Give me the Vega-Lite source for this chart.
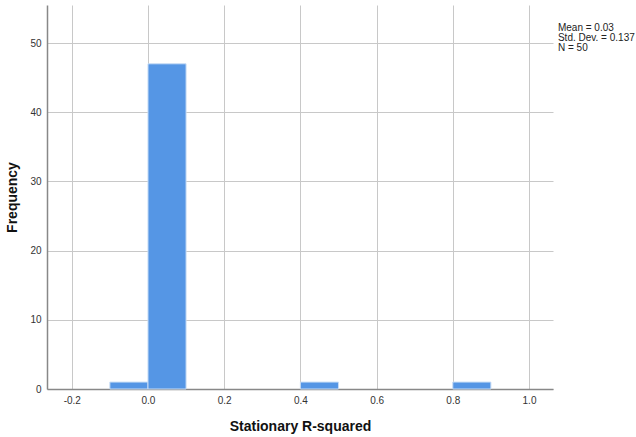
{
  "$schema": "https://vega.github.io/schema/vega-lite/v6.json",
  "autosize": {"type": "none"},
  "width": 506,
  "height": 384,
  "padding": {"left": 47, "top": 5, "right": 83, "bottom": 48},
  "background": "white",
  "config": {
    "view": {"stroke": null},
    "font": "Liberation Sans",
    "axis": {
      "labelFont": "Liberation Sans",
      "titleFont": "Liberation Sans",
      "labelFontSize": 10,
      "labelColor": "#333333",
      "titleFontSize": 14,
      "titleFontWeight": "bold",
      "titleColor": "#111111",
      "gridColor": "#c8c8c8",
      "gridWidth": 1,
      "domainColor": "#888888",
      "ticks": false
    }
  },
  "datasets": {
    "bins": [
      {"bin_start": -0.1, "bin_end": 0.0, "count": 1},
      {"bin_start": 0.0, "bin_end": 0.1, "count": 47},
      {"bin_start": 0.4, "bin_end": 0.5, "count": 1},
      {"bin_start": 0.8, "bin_end": 0.9, "count": 1}
    ],
    "stats": [
      {"label": "Mean = 0.03", "x": 1.076, "y": 52.2},
      {"label": "Std. Dev. = 0.137", "x": 1.076, "y": 50.75},
      {"label": "N = 50", "x": 1.076, "y": 49.3}
    ]
  },
  "layer": [
    {
      "data": {"name": "bins"},
      "mark": {"type": "rect", "fill": "#5596e5", "stroke": "#c9ddf5", "strokeWidth": 1},
      "encoding": {
        "x": {
          "field": "bin_start",
          "type": "quantitative",
          "scale": {"domain": [-0.265, 1.063], "nice": false, "zero": false},
          "axis": {
            "values": [-0.2, 0, 0.2, 0.4, 0.6, 0.8, 1.0],
            "format": ".1f",
            "labelExpr": "replace(datum.label, '\u2212', '-')",
            "title": "Stationary R-squared",
            "titlePadding": 14,
            "labelPadding": 6,
            "domainWidth": 1.5
          }
        },
        "x2": {"field": "bin_end"},
        "y": {
          "field": "count",
          "type": "quantitative",
          "scale": {"domain": [0, 55.5], "nice": false},
          "axis": {
            "values": [0, 10, 20, 30, 40, 50],
            "title": "Frequency",
            "titlePadding": 10,
            "labelPadding": 6,
            "domainWidth": 1.5
          }
        },
        "y2": {"datum": 0}
      }
    },
    {
      "data": {"name": "stats"},
      "mark": {"type": "text", "align": "left", "baseline": "middle", "fontSize": 10, "color": "#222222", "clip": false},
      "encoding": {
        "x": {"field": "x", "type": "quantitative"},
        "y": {"field": "y", "type": "quantitative"},
        "text": {"field": "label"}
      }
    }
  ]
}
